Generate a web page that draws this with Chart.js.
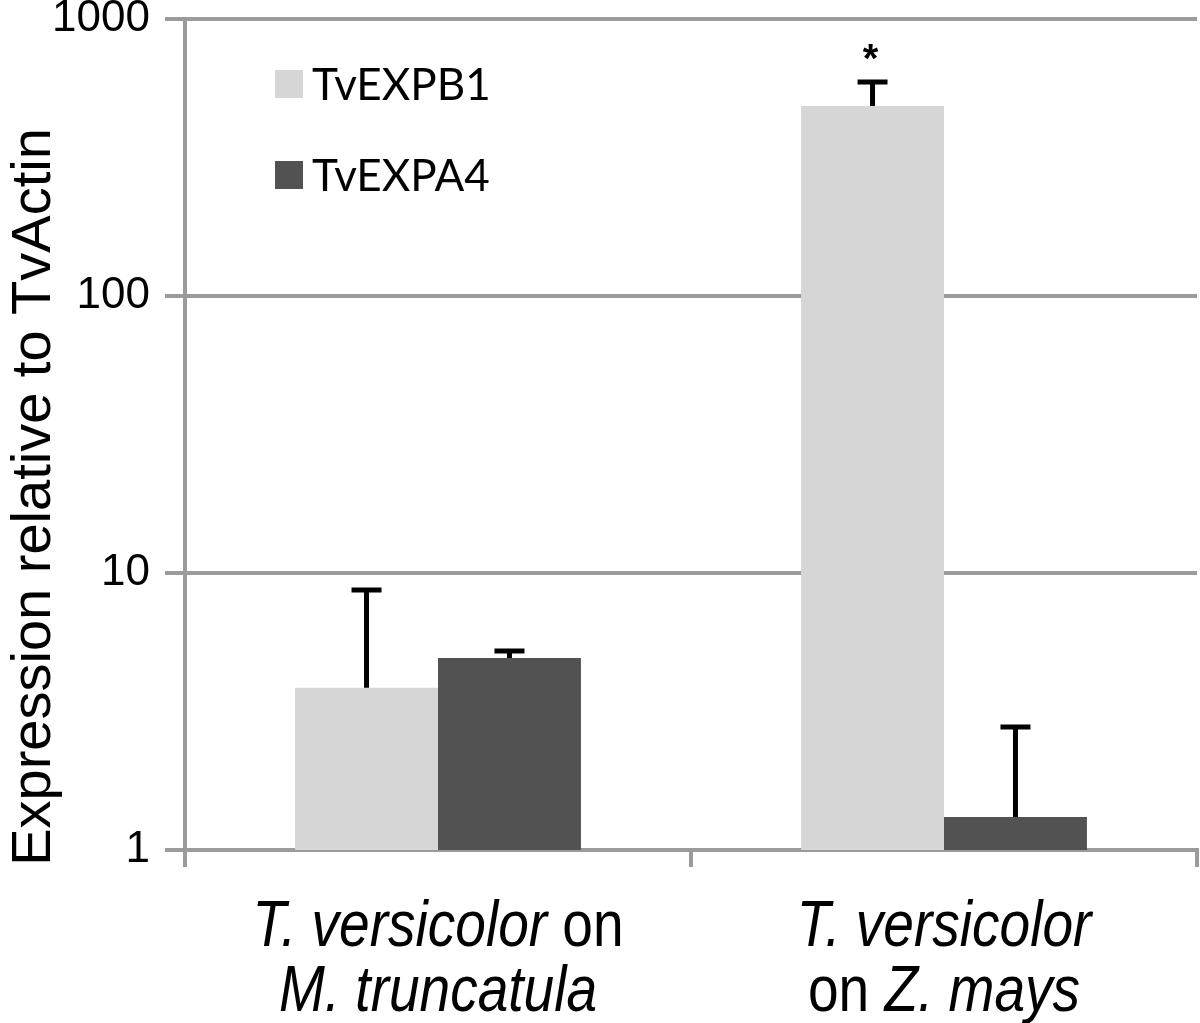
<!DOCTYPE html>
<html>
<head>
<meta charset="utf-8">
<script src="https://cdn.jsdelivr.net/npm/chart.js@4/dist/chart.umd.min.js"></script>
<style>
  html, body { margin: 0; padding: 0; background: #fff; }
  #wrap { width: 1200px; height: 1023px; }
</style>
</head>
<body>
<div id="wrap"><canvas id="myChart" width="1200" height="1023"></canvas></div>
<script>
// categories, each split in the two lines shown under the axis
let categories = [
  ['T. versicolor on', 'M. truncatula'],
  ['T. versicolor', 'on Z. mays']
];
// species names are set in italics
let speciesNames = ['T. versicolor', 'M. truncatula', 'Z. mays'];

let seriesNames = ['TvEXPB1', 'TvEXPA4'];
let expb1 = [3.85, 485];
let expa4 = [4.93, 1.315];
// top of each error bar
let expb1Err = [8.68, 592];
let expa4Err = [5.23, 2.78];
// significance marks per category for TvEXPB1
let expb1Sig = ['', '*'];

let tickVals = [1, 10, 100, 1000];
let yTitle = 'Expression relative to TvActin';

let colours = ['#d6d6d6', '#525252'];
let gridGrey = '#9b9b9b';
let arial = '"Liberation Sans", Arimo, Arial, sans-serif';

// split a line into italic / normal pieces
function pieces(line) {
  let out = [];
  let rest = line;
  while (rest.length) {
    let best = -1, name = null;
    speciesNames.forEach(function(s) {
      let k = rest.indexOf(s);
      if (k >= 0 && (best < 0 || k < best)) { best = k; name = s; }
    });
    if (best < 0) { out.push([rest, false]); break; }
    if (best > 0) out.push([rest.slice(0, best), false]);
    out.push([name, true]);
    rest = rest.slice(best + name.length);
  }
  return out;
}

let extras = {
  id: 'extras',
  afterDatasetsDraw: function(chart) {
    let ctx = chart.ctx;
    let y = chart.scales.y;
    let errs = [expb1Err, expa4Err];
    ctx.save();
    ctx.strokeStyle = '#000';
    ctx.lineWidth = 5;
    chart.data.datasets.forEach(function(ds, d) {
      let meta = chart.getDatasetMeta(d);
      meta.data.forEach(function(bar, i) {
        let top = y.getPixelForValue(errs[d][i]);
        ctx.beginPath();
        ctx.moveTo(bar.x, bar.y);
        ctx.lineTo(bar.x, top);
        ctx.moveTo(bar.x - 15, top);
        ctx.lineTo(bar.x + 15, top);
        ctx.stroke();
      });
    });
    // asterisks
    let m0 = chart.getDatasetMeta(0);
    ctx.fillStyle = '#000';
    ctx.font = 'bold 40px ' + arial;
    ctx.textAlign = 'center';
    ctx.textBaseline = 'alphabetic';
    expb1Sig.forEach(function(s, i) {
      if (!s) return;
      let top = y.getPixelForValue(expb1Err[i]);
      ctx.fillText(s, m0.data[i].x - 2, top - 10);
    });
    ctx.restore();
  },
  afterDraw: function(chart) {
    let ctx = chart.ctx;
    let x = chart.scales.x;
    let area = chart.chartArea;
    ctx.save();
    ctx.fillStyle = '#000';
    ctx.textBaseline = 'alphabetic';

    // x category labels with italic species names, condensed horizontally
    let squeeze = 0.86;
    let normal = '64px ' + arial;
    let italic = 'italic ' + normal;
    categories.forEach(function(lines, i) {
      let cx = x.getPixelForValue(i);
      lines.forEach(function(line, j) {
        let parts = pieces(line);
        let w = 0;
        parts.forEach(function(p) { ctx.font = p[1] ? italic : normal; w += ctx.measureText(p[0]).width; });
        let base = area.bottom + 96 + j * 65;
        ctx.save();
        ctx.translate(cx - w * squeeze / 2, base);
        ctx.scale(squeeze, 1);
        ctx.textAlign = 'left';
        let px = 0;
        parts.forEach(function(p) {
          ctx.font = p[1] ? italic : normal;
          ctx.fillText(p[0], px, 0);
          px += ctx.measureText(p[0]).width;
        });
        ctx.restore();
      });
    });

    // y axis title
    ctx.font = '56px ' + arial;
    ctx.textAlign = 'center';
    ctx.translate(50, 497);
    ctx.rotate(-Math.PI / 2);
    ctx.fillText(yTitle, 0, 0);
    ctx.restore();

    // legend inside the plot
    ctx.save();
    ctx.font = '44px Lato, "Open Sans", sans-serif';
    ctx.textAlign = 'left';
    ctx.textBaseline = 'middle';
    chart.data.datasets.forEach(function(ds, d) {
      let ly = 84 + d * 91;
      ctx.fillStyle = ds.backgroundColor;
      ctx.fillRect(275, ly - 14, 28, 28);
      ctx.fillStyle = '#000';
      ctx.fillText(ds.label, 312, ly + 2);
    });
    ctx.restore();
  }
};

let options = {
  type: 'bar',
  data: {
    labels: categories.map(function(c) { return c.join(' '); }),
    datasets: [
      { label: seriesNames[0], data: expb1, backgroundColor: colours[0] },
      { label: seriesNames[1], data: expa4, backgroundColor: colours[1] }
    ]
  },
  options: {
    responsive: false,
    animation: false,
    layout: { padding: { top: 19, right: 3, left: 0, bottom: 0 } },
    datasets: { bar: { categoryPercentage: 0.565, barPercentage: 1.0, borderWidth: 0 } },
    plugins: { legend: { display: false }, tooltip: { enabled: false } },
    scales: {
      x: {
        ticks: { display: false },
        grid: { display: true, offset: true, drawOnChartArea: false, color: gridGrey, lineWidth: 4, tickLength: 17 },
        border: { display: true, color: gridGrey, width: 4 },
        afterFit: function(s) { s.height = 173; s.paddingLeft = 0; s.paddingRight = 0; }
      },
      y: {
        type: 'logarithmic',
        min: 1,
        max: 1000,
        afterBuildTicks: function(s) { s.ticks = tickVals.map(function(v) { return { value: v }; }); },
        ticks: {
          color: '#000',
          padding: 15,
          font: { family: arial, size: 44 },
          callback: function(v) { return String(v); }
        },
        grid: { color: gridGrey, lineWidth: 4, tickLength: 20 },
        border: { display: true, color: gridGrey, width: 4 },
        afterFit: function(s) { s.width = 185; s.paddingTop = 0; s.paddingBottom = 0; }
      }
    }
  },
  plugins: [extras]
};

let mChart = new Chart(document.getElementById('myChart'), options);
</script>
</body>
</html>
